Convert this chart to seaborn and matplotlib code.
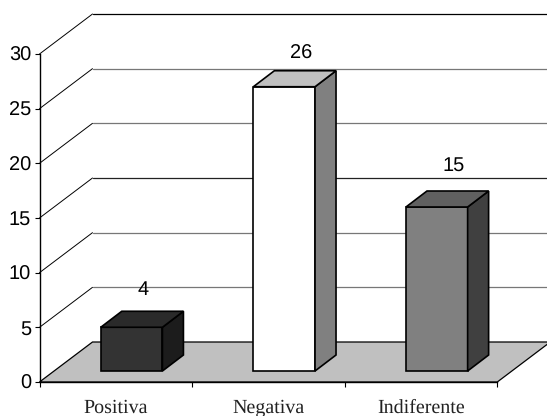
import matplotlib
matplotlib.use('Agg')
import matplotlib.pyplot as plt
import seaborn as sns
from matplotlib.patches import Polygon

categorias = ['Positiva', 'Negativa', 'Indiferente']
valores = [4, 26, 15]
colores_frente = ['#333333', '#ffffff', '#808080']
colores_tapa = ['#2a2a2a', '#c0c0c0', '#606060']
colores_lado = ['#1c1c1c', '#808080', '#404040']
ticks_y = [0, 5, 10, 15, 20, 25, 30]
grises_rejilla = ['black', '#777777', '#777777', '#222222', '#777777', '#777777', 'black']

W, H = 547, 416
# marco del grafico en pixeles
x0, x1, y0, y30 = 39.5, 497.3, 382, 54
px_x = (x1 - x0) / 3
px_y = (y0 - y30) / 30

sns.set_theme(style='white')
plt.rcParams['font.family'] = ['Liberation Sans', 'DejaVu Sans']
plt.rcParams['text.hinting'] = 'no_hinting'
plt.rcParams['text.hinting_factor'] = 1

fig = plt.figure(figsize=(W / 100, H / 100), dpi=100)
ax = fig.add_axes([x0 / W, (H - y0) / H, (x1 - x0) / W, (y0 - y30) / H])
ax.set_facecolor('none')
ax.set_xlim(-0.5, 2.5)
ax.set_ylim(0, 30)

# profundidad de las paredes y del piso
fx = 53 / px_x
fy = 40 / px_y

ax.add_patch(Polygon([(-0.5, 0), (2.5, 0), (2.5 + fx, fy), (-0.5 + fx, fy)], closed=True,
                     facecolor='#c0c0c0', edgecolor='black', linewidth=0.9,
                     clip_on=False, zorder=1))
for v, g in zip(ticks_y, grises_rejilla):
    if v > 0:
        ax.plot([-0.5, -0.5 + fx], [v, v + fy], color='black', lw=0.7, clip_on=False, zorder=1)
        ax.plot([-0.5 + fx, 2.5 + fx], [v + fy, v + fy], color=g, lw=0.9, clip_on=False, zorder=1)

ax.set_yticks(ticks_y)
ax.set_xticks([0, 1, 2], categorias, family='Liberation Serif', fontsize=14.6, color='#222222')
ax.set_xticks([-0.5, 0.5, 1.5, 2.5], minor=True)
ax.tick_params(axis='y', left=True, length=3.5, width=0.8, pad=2.5, labelsize=14.3, color='black',
               labelcolor='black')
ax.tick_params(axis='x', which='major', length=0, pad=12)
ax.tick_params(axis='x', which='minor', bottom=True, length=3.5, width=0.8, color='black')
sns.despine(ax=ax)
for s in ['left', 'bottom']:
    ax.spines[s].set_color('black')
    ax.spines[s].set_linewidth(1.0)

# las barras van en otro eje, corrido hacia el fondo
desp_x, desp_y = 15.8, 11
ax2 = fig.add_axes([(x0 + desp_x) / W, (H - y0 + desp_y) / H, (x1 - x0) / W, (y0 - y30) / H])
ax2.patch.set_alpha(0)
sns.barplot(x=categorias, y=valores, hue=categorias, palette=colores_frente, dodge=False,
            legend=False, width=0.404, saturation=1, edgecolor='black', linewidth=1.2, ax=ax2)
ax2.set_xlim(-0.5, 2.5)
ax2.set_ylim(0, 30)
ax2.axis('off')

bx = 21 / px_x
by = 16 / px_y
subida = [37, 33.5, 41.5]
corrido = [12, 16.5, 16.7]
for i, barra in enumerate(ax2.patches):
    barra.set_clip_on(False)
    a = barra.get_x()
    b = a + barra.get_width()
    h = barra.get_height()
    ax2.add_patch(Polygon([(b, 0), (b + bx, by), (b + bx, h + by), (b, h)], closed=True,
                          facecolor=colores_lado[i], edgecolor='black', linewidth=1.2,
                          clip_on=False, zorder=barra.get_zorder()))
    ax2.add_patch(Polygon([(a, h), (b, h), (b + bx, h + by), (a + bx, h + by)], closed=True,
                          facecolor=colores_tapa[i], edgecolor='black', linewidth=1.2,
                          clip_on=False, zorder=barra.get_zorder()))
    ax2.annotate(str(valores[i]), xy=((a + b) / 2, h), xytext=(corrido[i] * 0.72, subida[i] * 0.72),
                 textcoords='offset points', ha='center', va='center', fontsize=14.3,
                 color='black', annotation_clip=False)

fig.savefig('out.png', dpi=100)
